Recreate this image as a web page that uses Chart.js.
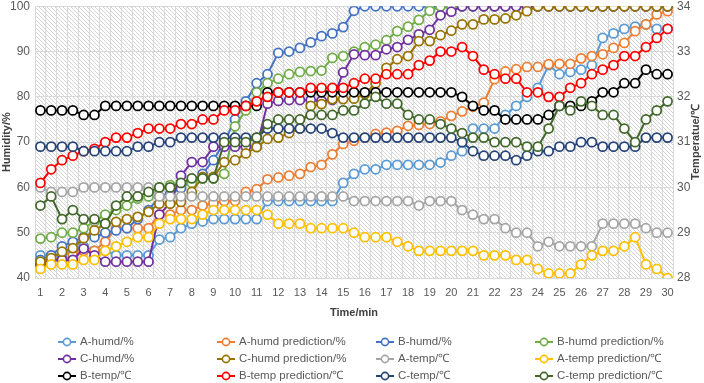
<!DOCTYPE html>
<html>
<head>
<meta charset="utf-8">
<script src="https://cdn.jsdelivr.net/npm/chart.js@4.4.1/dist/chart.umd.min.js"></script>
<style>
  html, body { margin: 0; padding: 0; background: #ffffff; }
  #wrap { width: 704px; height: 383px; position: relative; }
</style>
</head>
<body>
<div id="wrap"><canvas id="c" width="704" height="383"></canvas></div>
<script>
// ---- categories (Time/min) ----
const categories = ['1','1.5','2','2.5','3','3.5','4','4.5','5','5.5','6','6.5','7','7.5','8','8.5','9','9.5','10','10.5',
  '11','11.5','12','12.5','13','13.5','14','14.5','15','15.5','16','16.5','17','17.5','18','18.5','19','19.5','20','20.5',
  '21','21.5','22','22.5','23','23.5','24','24.5','25','25.5','26','26.5','27','27.5','28','28.5','29','29.5','30'];

// ---- humidity series (%) ----
const aHumd = [45,45,45,46,47,46,46,45,45,45,45,48.5,49,51,52,52.5,53,53,53,53,
  53,57,57,57,57,57,57,57,61,63,64,64,65,65,65,65,65,65.5,67,68,
  73,73,73,76,78,80,82,87,85,85.5,86,87,93,94,95,95.5,96,95,95];
const aHumdPred = [43,44,44,45,46,46,48,51,51,51,51,54,54,55,55,56,56.5,57,57,59,
  59.6,61.8,62.2,62.6,63,64.5,65,67.3,69.6,70.3,71,71.8,72.1,72.5,73.6,73.8,74,74.6,75.8,76.8,
  77.8,78.7,83.9,85.6,86.1,86.6,86.6,87.2,87.3,87.3,88.5,89,89.4,90.8,91.9,94.5,96,98.2,98.9];
const bHumd = [44,45,47,48,49,49,50,50.5,51,53,55,58,58.6,59.8,61.5,63,66,70,75,79,
  83,85,89.7,90,90.8,92,93.4,94,95.4,99,100,100,100,100,100,100,100,100,100,100,
  100,100,100,100,100,100,100,100,100,100,100,100,100,100,100,100,100,100,100];
const bHumdPred = [48.7,49,50,50,51,52.5,54,55,56,57.5,58,60,60.5,61,61,62,62,63,73.5,77,
  81,83,84,85,85.5,85.7,85.8,88.6,89,90,91,91.5,92.5,94.5,95.5,97,99,100,100,100,
  100,100,100,100,100,100,100,100,100,100,100,100,100,100,100,100,100,100,100];
const cHumd = [43,44,44,44,46.5,45,43.6,43.6,43.6,43.6,43.6,54,56.5,62.6,65.6,65.6,69,69,69,69,
  69,78.5,79.1,79.3,79.3,79.3,79.1,79.3,85.4,89.4,89.2,89.2,90.5,91,92.6,93.8,94.8,98,98.8,100,
  100,100,100,100,100,100,100,100,100,100,100,100,100,100,100,100,100,100,100];
const cHumdPred = [43.6,44.4,45.8,46.6,48.8,50.5,52,52.4,53,53.5,54.6,56.4,56.4,56.8,59,62.3,62.3,65.6,66,67.5,
  68.9,70.7,71,72,73,78,78.4,79.5,79.5,79.6,80.6,83,86.4,88.3,89,92.3,92.3,93.6,94.6,96,
  96,97.1,97.1,97.3,98,98.9,100,100,100,100,100,100,100,100,100,100,100,100,100];

// ---- temperature series (°C) ----
const aTemp = [30.0,29.9,29.9,29.9,30.0,30.0,30.0,30.0,30.0,30.0,30.0,29.8,29.8,29.8,29.8,29.8,29.8,29.8,29.8,29.8,
  29.8,29.8,29.8,29.8,29.8,29.8,29.8,29.8,29.8,29.7,29.7,29.7,29.7,29.7,29.7,29.6,29.7,29.7,29.7,29.5,
  29.4,29.3,29.3,29.1,29.0,29.0,28.7,28.8,28.7,28.7,28.7,28.7,29.2,29.2,29.2,29.2,29.1,29.0,29.0];
const aTempPred = [28.2,28.3,28.3,28.3,28.4,28.4,28.6,28.7,28.8,28.9,28.9,29.2,29.3,29.3,29.3,29.4,29.5,29.5,29.5,29.5,
  29.5,29.4,29.2,29.2,29.2,29.1,29.1,29.1,29.1,29.0,28.9,28.9,28.9,28.8,28.7,28.6,28.6,28.6,28.6,28.6,
  28.6,28.5,28.5,28.5,28.4,28.4,28.2,28.1,28.1,28.1,28.3,28.5,28.6,28.6,28.7,28.9,28.3,28.2,28.0];
const bTemp = [31.7,31.7,31.7,31.7,31.6,31.6,31.8,31.8,31.8,31.8,31.8,31.8,31.8,31.8,31.8,31.8,31.8,31.8,31.8,31.8,
  31.8,32.1,32.1,32.1,32.1,32.1,32.1,32.1,32.1,32.1,32.1,32.1,32.1,32.1,32.1,32.1,32.1,32.1,32.1,32.0,
  31.8,31.7,31.7,31.5,31.5,31.5,31.5,31.6,31.8,31.8,31.8,31.9,32.1,32.1,32.3,32.3,32.6,32.5,32.5];
const bTempPred = [30.1,30.4,30.6,30.7,30.8,30.85,31.0,31.1,31.1,31.2,31.3,31.3,31.3,31.4,31.4,31.5,31.5,31.7,31.7,31.8,
  31.9,32.0,32.1,32.1,32.1,32.2,32.2,32.2,32.2,32.3,32.4,32.4,32.5,32.5,32.5,32.7,32.8,33.0,33.0,33.1,
  32.9,32.6,32.5,32.4,32.4,32.1,32.1,32.0,32.0,32.2,32.3,32.5,32.6,32.7,32.9,32.9,33.1,33.3,33.5];
const cTemp = [30.9,30.9,30.9,30.9,30.8,30.8,30.8,30.8,30.8,30.9,30.9,31.0,31.0,31.1,31.1,31.1,31.1,31.1,31.1,31.1,
  31.1,31.3,31.3,31.3,31.3,31.3,31.3,31.2,31.1,31.1,31.1,31.1,31.1,31.1,31.1,31.1,31.1,31.1,31.1,31.0,
  30.8,30.7,30.7,30.7,30.6,30.7,30.8,30.8,30.9,30.9,31.0,31.0,30.9,30.9,30.9,30.9,31.1,31.1,31.1];
const cTempPred = [29.6,29.8,29.3,29.5,29.3,29.3,29.2,29.6,29.8,29.8,29.9,30.0,30.0,30.1,30.2,30.2,30.2,31.0,31.0,31.0,
  31.1,31.4,31.5,31.5,31.5,31.6,31.6,31.6,31.7,31.7,31.85,32.0,31.85,31.85,31.6,31.5,31.5,31.4,31.3,31.2,
  31.1,31.1,31.0,31.0,31.0,30.9,30.9,31.3,31.8,31.7,31.9,31.8,31.6,31.6,31.3,31.0,31.5,31.7,31.9];

// ---- axis tick labels ----
const humidityTicks = [40,50,60,70,80,90,100];
const temperatureTicks = [28,29,30,31,32,33,34];

const seriesNames = ['A-humd/%','A-humd prediction/%','B-humd/%','B-humd prediction/%',
  'C-humd/%','C-humd prediction/%','A-temp/℃','A-temp prediction/℃',
  'B-temp/℃','B-temp prediction/℃','C-temp/℃','C-temp prediction/℃'];
const seriesColors = ['#5B9BD5','#ED7D31','#4472C4','#70AD47','#7030A0','#997300',
  '#A5A5A5','#FFC000','#000000','#FF0000','#264478','#43682B'];
const seriesData = [aHumd,aHumdPred,bHumd,bHumdPred,cHumd,cHumdPred,aTemp,aTempPred,bTemp,bTempPred,cTemp,cTempPred];
const seriesAxis = ['y','y','y','y','y','y','y2','y2','y2','y2','y2','y2'];

const FONT = "'Liberation Sans Narrow', 'Liberation Sans', Arial, sans-serif";
const TITLE_FONT = "'Liberation Sans', Arial, sans-serif";
Chart.defaults.font.family = FONT;

const datasets = seriesData.map((d, i) => ({
  label: seriesNames[i],
  data: d,
  yAxisID: seriesAxis[i],
  borderColor: seriesColors[i],
  backgroundColor: '#ffffff',
  pointBackgroundColor: '#ffffff',
  pointBorderColor: seriesColors[i],
  pointRadius: 4.5,
  pointBorderWidth: 1.75,
  borderWidth: 2,
  tension: 0,
  order: seriesData.length - 1 - i
}));

// hatch pattern for plot area
function makePattern(ctx) {
  const p = document.createElement('canvas');
  p.width = 4; p.height = 4;
  const g = p.getContext('2d');
  g.fillStyle = '#ffffff';
  g.fillRect(0, 0, 4, 4);
  g.strokeStyle = 'rgba(165,165,165,0.6)';
  g.lineWidth = 0.8;
  g.beginPath();
  g.moveTo(0, 0); g.lineTo(4, 4);
  g.moveTo(-1, 3); g.lineTo(1, 5);
  g.moveTo(3, -1); g.lineTo(5, 1);
  g.stroke();
  return ctx.createPattern(p, 'repeat');
}

const bgPlugin = {
  id: 'bgHatch',
  beforeDraw(chart) {
    const ctx = chart.ctx, a = chart.chartArea;
    ctx.save();
    ctx.fillStyle = '#ffffff';
    ctx.fillRect(0, 0, chart.width, chart.height);
    ctx.fillStyle = makePattern(ctx);
    ctx.fillRect(a.left, a.top, a.right - a.left, a.bottom - a.top);
    ctx.restore();
  }
};

const decoPlugin = {
  id: 'deco',
  afterDraw(chart) {
    const ctx = chart.ctx, a = chart.chartArea;
    ctx.save();
    // axis titles
    ctx.fillStyle = '#404040';
    ctx.font = 'bold 11px ' + TITLE_FONT;
    ctx.textAlign = 'center';
    ctx.textBaseline = 'middle';
    ctx.fillText('Time/min', (a.left + a.right) / 2, 313);
    ctx.save();
    ctx.translate(7, (a.top + a.bottom) / 2);
    ctx.rotate(-Math.PI / 2);
    ctx.fillText('Humidity/%', 0, 0);
    ctx.restore();
    ctx.save();
    ctx.translate(696, (a.top + a.bottom) / 2);
    ctx.rotate(-Math.PI / 2);
    ctx.fillText('Temperatue/℃', 0, 0);
    ctx.restore();

    // legend: 4 uniform columns x 3 rows
    const colX = [58, 217, 376, 535];
    const rowY = [342, 359, 376];
    ctx.font = '11.5px ' + TITLE_FONT;
    ctx.textAlign = 'left';
    chart.data.datasets.forEach((ds, i) => {
      const x = colX[i % 4], y = rowY[Math.floor(i / 4)];
      ctx.strokeStyle = ds.borderColor;
      ctx.lineWidth = 2;
      ctx.beginPath();
      ctx.moveTo(x, y); ctx.lineTo(x + 18, y);
      ctx.stroke();
      ctx.beginPath();
      ctx.arc(x + 9, y, 3.6, 0, Math.PI * 2);
      ctx.fillStyle = '#ffffff';
      ctx.fill();
      ctx.lineWidth = 1.6;
      ctx.stroke();
      ctx.fillStyle = '#595959';
      ctx.fillText(ds.label, x + 22, y);
    });
    ctx.restore();
  }
};

new Chart(document.getElementById('c'), {
  type: 'line',
  data: { labels: categories, datasets },
  options: {
    responsive: false,
    animation: false,
    layout: { padding: { top: 5, left: 0, right: 0, bottom: 0 } },
    plugins: { legend: { display: false }, tooltip: { enabled: false } },
    scales: {
      x: {
        type: 'category',
        offset: true,
        grid: { color: '#d9d9d9', lineWidth: 1, offset: true, drawTicks: false },
        border: { display: false },
        ticks: {
          autoSkip: false, maxRotation: 0, minRotation: 0, padding: 8,
          color: '#595959', font: { size: 11, family: FONT },
          callback(v, i) { const s = categories[i]; return s.indexOf('.') === -1 ? s : ''; }
        },
        afterFit(s) { s.height = 105; s.paddingLeft = 0; s.paddingRight = 0; }
      },
      y: {
        position: 'left',
        min: humidityTicks[0], max: humidityTicks[humidityTicks.length - 1],
        afterBuildTicks(s) { s.ticks = humidityTicks.map(v => ({ value: v })); },
        grid: { color: '#d9d9d9', lineWidth: 1, drawTicks: false },
        border: { display: false },
        ticks: { color: '#595959', padding: 5, font: { size: 12, family: FONT } },
        afterFit(s) { s.width = 35; s.paddingTop = 0; s.paddingBottom = 0; }
      },
      y2: {
        position: 'right',
        min: temperatureTicks[0], max: temperatureTicks[temperatureTicks.length - 1],
        afterBuildTicks(s) { s.ticks = temperatureTicks.map(v => ({ value: v })); },
        grid: { display: false, drawTicks: false },
        border: { display: false },
        ticks: { color: '#595959', padding: 4, font: { size: 12, family: FONT } },
        afterFit(s) { s.width = 31; s.paddingTop = 0; s.paddingBottom = 0; }
      }
    }
  },
  plugins: [bgPlugin, decoPlugin]
});
</script>
</body>
</html>
